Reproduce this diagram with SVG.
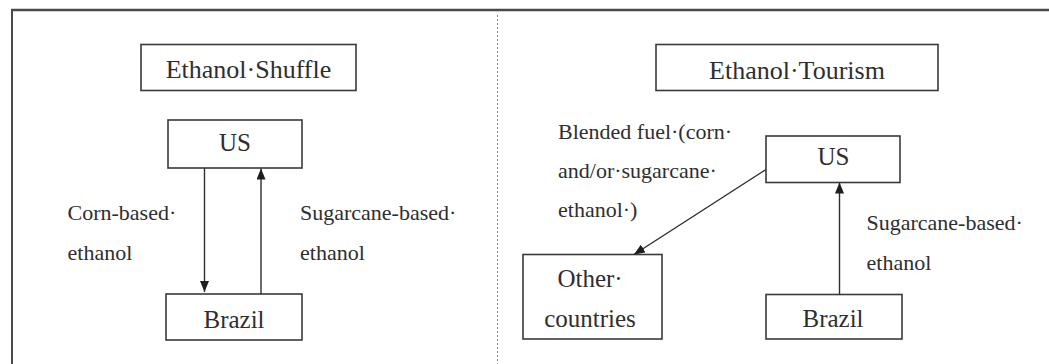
<svg xmlns="http://www.w3.org/2000/svg" width="1049" height="364" viewBox="0 0 1049 364">
<style>
  .frame{stroke:#4a4a4a;fill:none}
  .box{fill:#fff;stroke:#3a3a3a;stroke-width:1.6}
  .t{font-family:"Liberation Serif","Tinos","DejaVu Serif",serif;fill:#2e2e2e}
  .title{font-size:26px}
  .node{font-size:25px}
  .lbl{font-size:22px}
  .edge{stroke:#2e2e2e;stroke-width:1.4;fill:none;marker-end:url(#arr)}
</style>
<defs>
  <marker id="arr" viewBox="0 0 10 10" refX="10" refY="5" markerWidth="11" markerHeight="9" markerUnits="userSpaceOnUse" orient="auto" preserveAspectRatio="none">
    <path d="M0,0 L10,5 L0,10 z" fill="#1e1e1e"/>
  </marker>
</defs>
<rect x="0" y="0" width="1049" height="364" fill="#fff"/>
<g id="frame">
  <line class="frame" x1="11" y1="10" x2="1049" y2="10" stroke-width="2.4"/>
  <line class="frame" x1="12" y1="9" x2="12" y2="364" stroke-width="2"/>
  <line x1="497.5" y1="15" x2="497.5" y2="364" stroke="#888" stroke-width="1" stroke-dasharray="2,2"/>
</g>
<g id="title-shuffle">
  <rect class="box" x="141" y="44.5" width="215" height="46"/>
  <text class="t title" x="248.5" y="77.5" text-anchor="middle">Ethanol·Shuffle</text>
</g>
<g id="us-left">
  <rect class="box" x="168" y="120" width="134" height="48"/>
  <text class="t node" x="235" y="151" text-anchor="middle">US</text>
</g>
<g id="brazil-left">
  <rect class="box" x="166" y="294" width="136" height="46"/>
  <text class="t node" x="234" y="328" text-anchor="middle">Brazil</text>
</g>
<g id="title-tourism">
  <rect class="box" x="656" y="44.5" width="282" height="46"/>
  <text class="t title" x="797" y="78.5" text-anchor="middle">Ethanol·Tourism</text>
</g>
<g id="us-right">
  <rect class="box" x="766" y="136" width="134" height="46.5"/>
  <text class="t node" x="833.5" y="165" text-anchor="middle">US</text>
</g>
<g id="other-countries">
  <rect class="box" x="523" y="254.5" width="139" height="84.5"/>
  <text class="t node" x="590" y="287" text-anchor="middle">Other·</text>
  <text class="t node" x="590" y="327" text-anchor="middle">countries</text>
</g>
<g id="brazil-right">
  <rect class="box" x="766" y="294.5" width="136" height="44.5"/>
  <text class="t node" x="833" y="327" text-anchor="middle">Brazil</text>
</g>
<g id="connectors">
  <line class="edge" x1="204.5" y1="168" x2="204.5" y2="292"/>
  <line class="edge" x1="261" y1="294" x2="261" y2="168.5"/>
  <line class="edge" x1="839.5" y1="294.5" x2="839.5" y2="182.5"/>
  <line class="edge" x1="766" y1="169.5" x2="634" y2="254.5"/>
</g>
<g id="labels">
  <text class="t lbl" x="67.5" y="220">Corn-based·</text>
  <text class="t lbl" x="67.5" y="260">ethanol</text>
  <text class="t lbl" x="300" y="220">Sugarcane-based·</text>
  <text class="t lbl" x="300" y="260">ethanol</text>
  <text class="t lbl" x="558" y="138.5">Blended fuel·(corn·</text>
  <text class="t lbl" x="558" y="177.5">and/or·sugarcane·</text>
  <text class="t lbl" x="558" y="216.5">ethanol·)</text>
  <text class="t lbl" x="866.5" y="229.5">Sugarcane-based·</text>
  <text class="t lbl" x="866.5" y="270">ethanol</text>
</g>
</svg>
